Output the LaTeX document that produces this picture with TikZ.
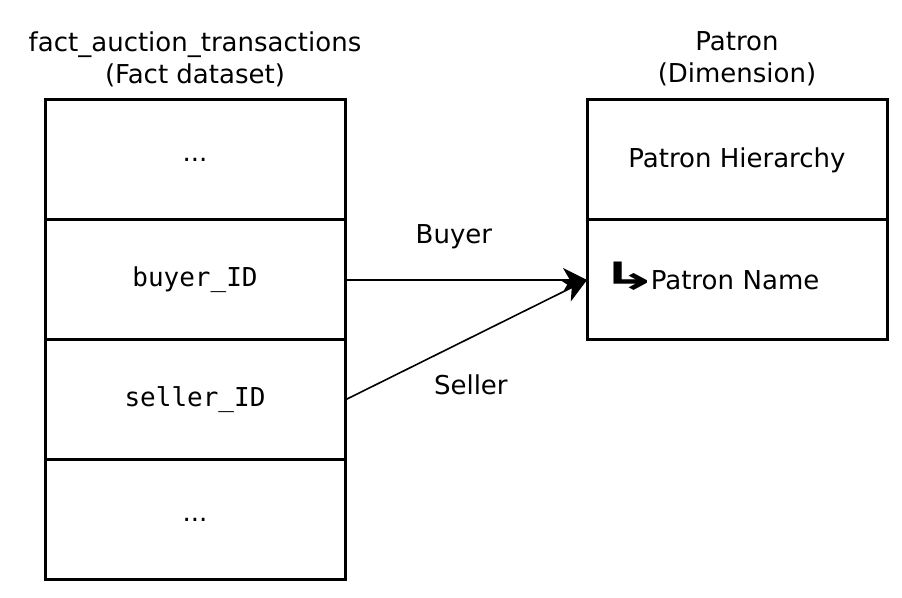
\documentclass[tikz,border=0pt]{standalone}
\usepackage{fontspec}
\setmainfont{DejaVu Sans}
\setmonofont{DejaVu Sans Mono}
\usepackage{tikz}
\usetikzlibrary{positioning, arrows.meta}

\begin{document}
\begin{tikzpicture}[node distance=60pt, on grid, font=\fontsize{13}{16}\selectfont,
        cell/.style={draw, line width=1.5pt, minimum width=150pt, minimum height=60pt, inner sep=0pt, outer sep=0pt},
        link/.style={-{Stealth[length=12pt, width=12pt, inset=3.5pt]}, line width=0.8pt}]
        \useasboundingbox (0,0) rectangle (451pt,-299pt);

        % fact table
        \node[cell] (fdots1) at (97.5pt,-80pt) {...};
        \node[cell] (buyer) [below=of fdots1] {\texttt{buyer\_ID}};
        \node[cell] (seller) [below=of buyer] {\texttt{seller\_ID}};
        \node[cell] (fdots2) [below=of seller] {...};
        \node[align=center] (facttitle) [above=50.5pt of fdots1] {fact\_auction\_transactions\\(Fact dataset)};

        % dimension
        \node[cell] (hier) [right=271pt of fdots1] {Patron Hierarchy};
        \node[cell, text width=150pt, align=left] (pname) [below=of hier]
            {\hspace*{6.5pt}\smash{\scalebox{2.7}[1.45]{\bfseries ↳}}\hspace{-4pt}Patron Name};
        \node[align=center] (dimtitle) [above=50.5pt of hier] {Patron\\(Dimension)};

        \path[link]
        (buyer.east) edge node[pos=0.45, above=12pt] {Buyer} (pname.west)
        (seller.east) edge node[pos=0.52, below=15pt] {Seller} (pname.west);

    \end{tikzpicture}
\end{document}
